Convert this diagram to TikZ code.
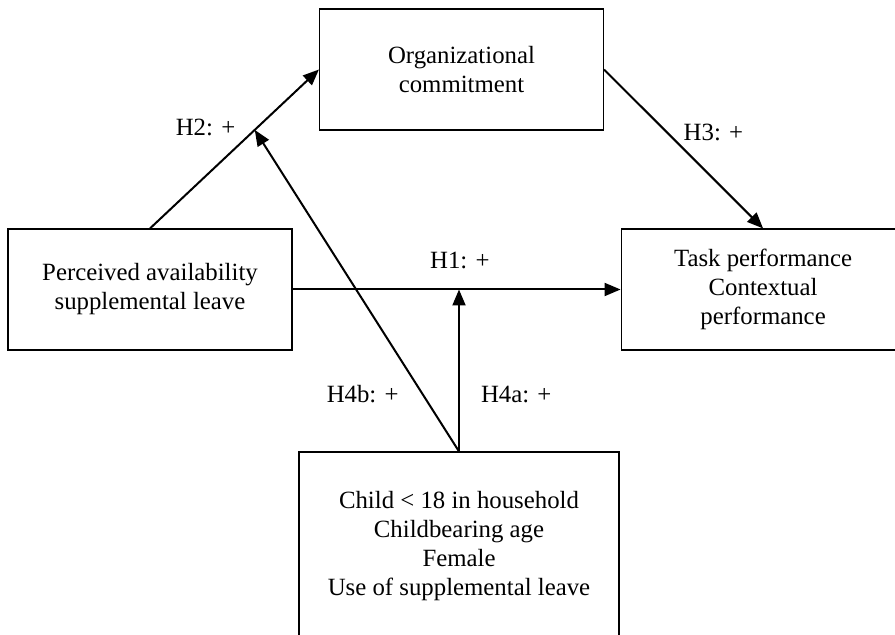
\documentclass[tikz,border=0pt]{standalone}
\usepackage{fontspec}
\setmainfont{Liberation Serif}
\usetikzlibrary{positioning,arrows.meta,calc}

\newcommand{\diagfont}{\fontsize{12.4}{14.5}\selectfont}

\begin{document}
\begin{tikzpicture}[x=0.5pt, y=-0.5pt, ->, >={Triangle[length=8pt,width=6.5pt]}, line width=1pt,
		var/.style={draw, line width=0.55pt, minimum width=142pt, minimum height=60.5pt, align=center, font=\diagfont, inner sep=2pt},
		hyp/.style={inner sep=0pt, font=\diagfont},
		node distance=164pt]
		\clip (0,0) rectangle (895,635);

		\node[var] (perceived) at (150,289.5) {Perceived availability\\supplemental leave};
		\node[var] (task) [right=of perceived] {Task performance\\Contextual\\performance};
		\node[var] (commit) at (461.5,69.5) {Organizational\\commitment};
		\node[var, minimum width=160pt, minimum height=94pt] (child) at (459,546) {Child < 18 in household\\Childbearing age\\Female\\Use of supplemental leave};

		\coordinate (h2mid) at ($(perceived.north)!0.62!(commit.west)$);

		\path
		(perceived) edge node[hyp, pos=0.51, above=10pt] {H1: +} (task)
		(perceived.north) edge node[hyp, pos=0.635, left=10.5pt] {H2: +} (commit.west)
		(commit.east) edge node[hyp, pos=0.394, right=8pt] {H3: +} (task.north)
		(child.north) edge node[hyp, pos=0.352, right=10.5pt] {H4a: +} (child.north |- perceived.east)
		edge node[hyp, pos=0.178, left=11.5pt] {H4b: +} (h2mid);
	\end{tikzpicture}
\end{document}
